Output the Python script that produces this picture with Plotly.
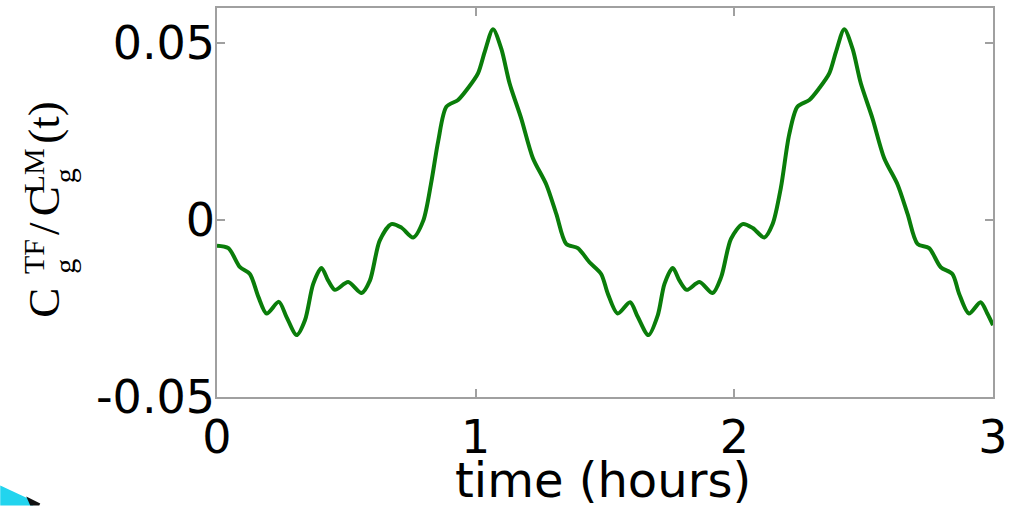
import plotly.graph_objects as go

# ---- data ----
time_hours = [0.000, 0.044, 0.089, 0.127, 0.160, 0.192, 0.239, 0.269, 0.308, 0.340,
              0.372, 0.404, 0.430, 0.456, 0.507, 0.559, 0.591, 0.629, 0.674, 0.713,
              0.758, 0.797, 0.829, 0.855, 0.887, 0.932, 0.970, 1.009, 1.035, 1.067,
              1.099, 1.131, 1.176, 1.221, 1.273, 1.312, 1.350, 1.395, 1.440, 1.485,
              1.511, 1.549, 1.597, 1.627, 1.668, 1.704, 1.730, 1.762, 1.788, 1.816,
              1.865, 1.916, 1.949, 1.987, 2.032, 2.071, 2.116, 2.148, 2.180, 2.212,
              2.244, 2.290, 2.328, 2.367, 2.393, 2.425, 2.457, 2.489, 2.534, 2.579,
              2.631, 2.670, 2.708, 2.753, 2.798, 2.843, 2.869, 2.907, 2.952, 2.978,
              3.000]
ratio = [-0.0072, -0.0079, -0.0133, -0.0152, -0.0217, -0.0264, -0.0231, -0.0274, -0.0325, -0.0283,
         -0.0180, -0.0135, -0.0171, -0.0197, -0.0175, -0.0206, -0.0171, -0.0058, -0.0011, -0.0021,
         -0.0049, -0.0002, 0.0110, 0.0223, 0.0321, 0.0340, 0.0373, 0.0415, 0.0476, 0.0540,
         0.0485, 0.0387, 0.0288, 0.0176, 0.0101, 0.0017, -0.0067, -0.0079, -0.0119, -0.0152,
         -0.0208, -0.0264, -0.0232, -0.0274, -0.0325, -0.0269, -0.0180, -0.0135, -0.0171, -0.0197,
         -0.0175, -0.0206, -0.0161, -0.0053, -0.0011, -0.0022, -0.0049, -0.0011, 0.0092, 0.0242,
         0.0321, 0.0340, 0.0373, 0.0415, 0.0476, 0.0540, 0.0485, 0.0387, 0.0288, 0.0176,
         0.0101, 0.0017, -0.0067, -0.0079, -0.0133, -0.0152, -0.0208, -0.0264, -0.0232, -0.0264,
         -0.0297]

x_ticks = [0, 1, 2, 3]
x_ticklabels = ["0", "1", "2", "3"]
y_ticks = [-0.05, 0, 0.05]
y_ticklabels = ["-0.05", "0", "0.05"]
x_title = "time (hours)"

W, H = 1014, 506
L, R, T, B = 217, 994, 6, 397   # plot area in pixels


def px(x):
    return (x - L) / (R - L)


def py(y):
    return (B - y) / (B - T)


fig = go.Figure()
fig.add_trace(go.Scatter(
    x=time_hours, y=ratio, mode="lines",
    line=dict(color="#0a7d0a", width=4, shape="spline", smoothing=0.8),
    showlegend=False, hoverinfo="skip"))

tick_font = dict(family="DejaVu Sans", size=46, color="black")
axis_common = dict(showline=True, linecolor="#a0a0a0", linewidth=1.5, mirror="ticks",
                   ticks="inside", ticklen=8, tickcolor="#a0a0a0", tickwidth=1.5,
                   showgrid=False, zeroline=False, tickfont=tick_font)

fig.update_xaxes(range=[0, 3], tickvals=x_ticks, ticktext=x_ticklabels,
                 ticklabelstandoff=-1, **axis_common)
fig.update_yaxes(range=[-0.05, 0.06], tickvals=y_ticks, ticktext=y_ticklabels,
                 ticklabelstandoff=-9, **axis_common)

# x-axis title
fig.add_annotation(text=x_title, font=dict(family="DejaVu Sans", size=48, color="black"),
                   showarrow=False, xref="paper", yref="paper",
                   x=px(603), y=py(480), xanchor="center", yanchor="middle")

serif_big = dict(family="Liberation Serif", size=45, color="black")
serif_small = dict(family="Liberation Serif", size=30, color="black")

pieces = [
    ("C", serif_big, 44, 302),
    ("TF", serif_small, 33, 256),
    ("g", serif_small, 64, 266),
    ("/", serif_big, 44, 228),
    ("C", serif_big, 44, 200),
    ("LM", serif_small, 33, 170),
    ("g", serif_small, 64, 175),
    ("(t)", serif_big, 44, 121),
]
for txt, fnt, cx, cy in pieces:
    fig.add_annotation(text=txt, font=fnt, textangle=-90, showarrow=False,
                       xref="paper", yref="paper", x=px(cx), y=py(cy),
                       xanchor="center", yanchor="middle")

# small decorative slide fragment in the bottom-left corner
fig.add_shape(type="path", xref="paper", yref="paper",
              path=f"M {px(0)},{py(486)} L {px(30)},{py(500)} L {px(33)},{py(506)} L {px(0)},{py(506)} Z",
              fillcolor="#22d4ee", line=dict(width=0))
fig.add_shape(type="path", xref="paper", yref="paper",
              path=f"M {px(26)},{py(497)} L {px(40)},{py(504)} L {px(39)},{py(506)} L {px(30)},{py(506)} Z",
              fillcolor="#111111", line=dict(width=0))

fig.update_layout(width=W, height=H, margin=dict(l=L, r=W - R, t=T, b=H - B),
                  paper_bgcolor="white", plot_bgcolor="white")

fig.write_html("out.html", config={"displayModeBar": False},
               post_script="document.body.style.margin='0';")
